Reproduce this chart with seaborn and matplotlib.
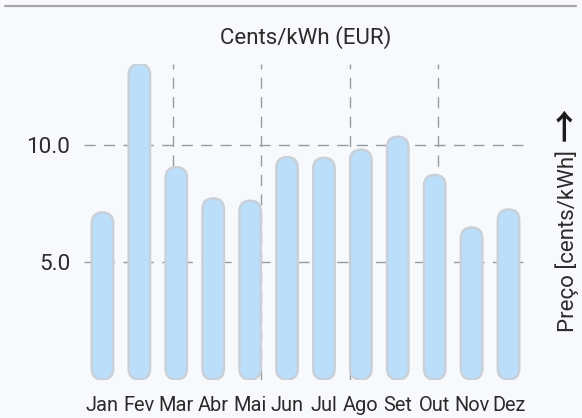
import matplotlib
matplotlib.use("Agg")
import matplotlib.pyplot as plt
from matplotlib.patches import FancyBboxPatch
from matplotlib.lines import Line2D
import seaborn as sns

months = ["Jan", "Fev", "Mar", "Abr", "Mai", "Jun", "Jul", "Ago", "Set", "Out", "Nov", "Dez"]
prices = [7.12, 13.45, 9.05, 7.72, 7.62, 9.48, 9.45, 9.8, 10.35, 8.72, 6.48, 7.25]
ytick_vals = [5.0, 10.0]
ytick_labels = ["5.0", "10.0"]

sns.set_style("white")
plt.rcParams["font.family"] = ["Roboto", "DejaVu Sans"]

bg = "#f8f9fc"
grid_c = "#959da3"
text_c = "#2b2b2b"

fig = plt.figure(figsize=(5.82, 4.18), dpi=100, facecolor=bg)
ax = fig.add_axes([84 / 582, 1 - 379.5 / 418, (527 - 84) / 582, (379.5 - 64) / 418])
ax.set_facecolor(bg)

sns.barplot(x=months, y=prices, color="#bbdefb", saturation=1, width=0.58, ax=ax, zorder=3)

ax.set_xlim(-0.5, len(months) - 0.5)
ax.set_ylim(0, max(prices))

# swap plain rectangles for pill-shaped bars
fig.canvas.draw()
p = ax.transData.transform([(0, 0), (1, 1)])
aspect = (p[1, 0] - p[0, 0]) / (p[1, 1] - p[0, 1])
for bar in list(ax.patches):
    x, y = bar.get_x(), bar.get_y()
    w, h = bar.get_width(), bar.get_height()
    bar.remove()
    pill = FancyBboxPatch((x, y), w, h,
                          boxstyle=f"round,pad=0,rounding_size={w / 2}",
                          mutation_aspect=aspect,
                          facecolor="#bbdefb", edgecolor="#c8d1da", lw=1.8, zorder=3)
    ax.add_patch(pill)

# dashed grid
for v in ytick_vals:
    ax.axhline(v, color=grid_c, lw=1, ls=(0, (8, 6)), zorder=1)
x0, x1 = ax.get_xlim()
for f in [0.2, 0.4, 0.6, 0.8]:
    ax.axvline(x0 + (x1 - x0) * f, color=grid_c, lw=1, ls=(0, (8, 6)), zorder=1)

ax.set_yticks(ytick_vals)
ax.set_yticklabels(ytick_labels, fontsize=16.2, color=text_c)
ax.tick_params(axis="y", length=0, pad=10)
ax.tick_params(axis="x", length=0, pad=12, labelsize=14.4, labelcolor=text_c)
ax.set_xlabel("")
ax.set_ylabel("")
sns.despine(ax=ax, left=True, bottom=True)

ax.set_title("Cents/kWh (EUR)", fontsize=16, color=text_c, pad=14.5)

fig.text(567 / 582, 1 - 241 / 418, "Preço [cents/kWh]", rotation=90,
         ha="center", va="center", fontsize=16, color=text_c)
fig.text(567 / 582, 1 - 124 / 418, "→", rotation=90,
         ha="center", va="center", fontsize=24, fontweight="bold", color="#1a1a1a",
         family=["Noto Sans CJK JP"])

fig.add_artist(Line2D([5 / 582, 576 / 582], [1 - 5.5 / 418] * 2, color="#a6a6a6", lw=1.6))

plt.savefig("out.png", dpi=100, facecolor=bg)
